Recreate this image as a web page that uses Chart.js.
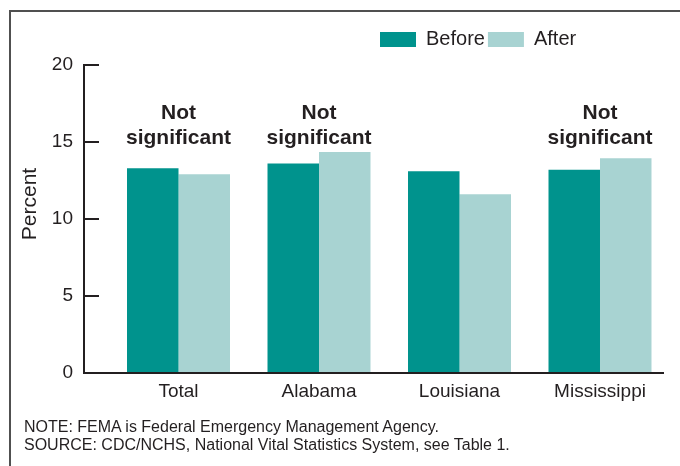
<!DOCTYPE html>
<html><head><meta charset="utf-8">
<script src="https://cdn.jsdelivr.net/npm/chart.js@4/dist/chart.umd.min.js"></script>
<style>
html,body{margin:0;padding:0;background:#fff;}
#wrap{position:relative;width:680px;height:466px;overflow:hidden;}
#frame{position:absolute;left:9px;top:10px;width:700px;height:500px;border-top:2px solid #505050;border-left:2px solid #505050;}
canvas{position:absolute;left:0;top:0;}
#note{position:absolute;left:24px;top:418px;font:16px 'Liberation Sans',Arial,sans-serif;color:#231f20;line-height:18px;white-space:nowrap;}
</style></head><body>
<div id="wrap"><div id="frame"></div><canvas id="c" width="680" height="466"></canvas>
<div id="note">NOTE: FEMA is Federal Emergency Management Agency.<br>SOURCE: CDC/NCHS, National Vital Statistics System, see Table 1.</div></div>
<script>
const categories = ['Total', 'Alabama', 'Louisiana', 'Mississippi'];
const seriesNames = ['Before', 'After'];
const beforeValues = [13.3, 13.6, 13.1, 13.2];
const afterValues = [12.9, 14.35, 11.6, 13.95];
const yTicks = [0, 5, 10, 15, 20];
const notes = ['Not significant', 'Not significant', '', 'Not significant'];
const yTitle = 'Percent';

const FONT = "'Liberation Sans', Arial, Helvetica, sans-serif";
const INK = '#231f20';

const notePlugin = {
  id: 'notes',
  afterDatasetsDraw(chart) {
    const ctx = chart.ctx, xs = chart.scales.x, ys = chart.scales.y;
    ctx.save();
    ctx.font = 'bold 21px ' + FONT;
    ctx.fillStyle = INK; ctx.textAlign = 'center'; ctx.textBaseline = 'middle';
    notes.forEach((t, i) => {
      if (!t) return;
      const parts = t.split(' ');
      const x = xs.getPixelForValue(i);
      const y = ys.getPixelForValue(16.85);
      ctx.fillText(parts[0], x, y);
      ctx.fillText(parts[1], x, y + 25);
    });
    const ca = chart.chartArea;
    ctx.font = '21px ' + FONT;
    ctx.textAlign = 'center'; ctx.textBaseline = 'middle';
    ctx.translate(30.5, (ca.top + ca.bottom) / 2 - 15);
    ctx.rotate(-Math.PI / 2);
    ctx.fillText(yTitle, 0, 0);
    ctx.restore();
  }
};

const legendPos = {
  id: 'legendPos',
  afterLayout(chart) {
    const lg = chart.legend;
    const w = lg.right - lg.left, h = lg.bottom - lg.top;
    lg.left = 377; lg.right = 377 + w;
    lg.top = 26.5; lg.bottom = 26.5 + h;
  }
};

new Chart(document.getElementById('c'), {
  type: 'bar',
  data: {
    datasets: [
      { label: seriesNames[0], data: beforeValues.map((v, i) => ({ x: i, y: v })), backgroundColor: '#00938d', borderWidth: 0 },
      { label: seriesNames[1], data: afterValues.map((v, i) => ({ x: i, y: v })), backgroundColor: '#a8d3d2', borderWidth: 0 }
    ]
  },
  options: {
    responsive: false,
    animation: false,
    devicePixelRatio: 1,
    categoryPercentage: 0.733,
    barPercentage: 1,
    layout: { padding: { top: 32, right: 17, bottom: 0, left: 0 } },
    plugins: {
      legend: {
        display: true, position: 'top', align: 'start',
        labels: { boxWidth: 36, boxHeight: 15, padding: 3, color: INK, font: { size: 20, family: FONT } }
      },
      tooltip: { enabled: false },
      title: { display: false }
    },
    scales: {
      x: {
        type: 'linear', min: -0.6726, max: 3.4484, offset: false,
        afterBuildTicks: s => { s.ticks = categories.map((c, i) => ({ value: i })); },
        ticks: { callback: (v, i) => categories[i], color: INK, font: { size: 19, family: FONT }, padding: 7, autoSkip: false, maxRotation: 0 },
        grid: { drawOnChartArea: false, drawTicks: false, offset: false },
        border: { display: true, color: INK, width: 2 },
        afterFit: s => { s.height = 93; }
      },
      y: {
        min: 0, max: 20,
        afterBuildTicks: s => { s.ticks = yTicks.map(v => ({ value: v })); },
        ticks: { color: INK, font: { size: 19, family: FONT }, padding: 26 },
        grid: { drawOnChartArea: false, drawTicks: true, tickLength: -15, color: INK, lineWidth: 2 },
        border: { display: true, color: INK, width: 2 },
        afterFit: s => { s.width = 84; }
      }
    }
  },
  plugins: [notePlugin, legendPos]
});
</script>
</body></html>
